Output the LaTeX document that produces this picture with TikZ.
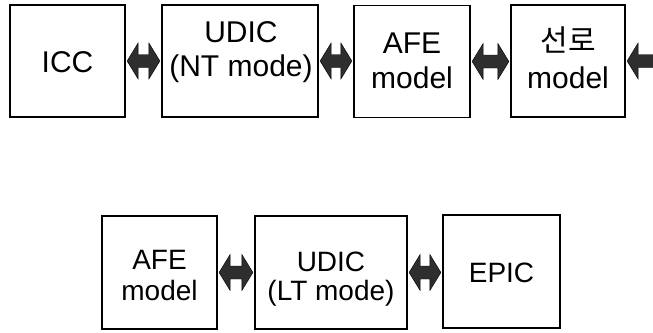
\documentclass[tikz,border=0pt]{standalone}
\usepackage{fontspec}
\setmainfont{Liberation Sans}
\newfontfamily\krfont{Noto Sans CJK KR}
\usetikzlibrary{calc}
\tikzset{
  box/.style={draw=black, line width=1.2pt, rectangle, inner sep=0pt},
  txt/.style={anchor=base, inner sep=0pt, font=\fontsize{30pt}{34pt}\selectfont},
  txtb/.style={anchor=base, inner sep=0pt, font=\fontsize{28pt}{30pt}\selectfont},
  arrowfill/.style={fill=black!82, draw=black, line width=0.4pt}
}
\newcommand{\fatarrow}[2]{%
  \path[arrowfill] let \p1=($(#1)+(1.5pt,0)$), \p2=($(#2)+(-1.5pt,0)$) in
    (\x1,\y1) -- (\x1+11pt,\y1+18pt) -- (\x1+11pt,\y1+6.5pt) -- (\x2-11pt,\y1+6.5pt)
    -- (\x2-11pt,\y1+18pt) -- (\x2,\y1) -- (\x2-11pt,\y1-18pt) -- (\x2-11pt,\y1-6.5pt)
    -- (\x1+11pt,\y1-6.5pt) -- (\x1+11pt,\y1-18pt) -- cycle;}
\begin{document}
\begin{tikzpicture}[x=1pt,y=-1pt]
\useasboundingbox (0,0) rectangle (653,332);
\clip (0,0) rectangle (653,332);
% top row
\node[box, minimum width=115pt, minimum height=112pt] (icc) at (67.5,61) {};
\node[box, minimum width=156pt, minimum height=112pt] (udicnt) at (240,61) {};
\node[box, minimum width=116pt, minimum height=112pt] (afea) at (412,61.5) {};
\node[box, minimum width=114pt, minimum height=112pt] (line) at (568,61) {};
\coordinate (rend) at (700,61);
% bottom row
\node[box, minimum width=115pt, minimum height=113pt] (afeb) at (159.5,272.5) {};
\node[box, minimum width=152pt, minimum height=113pt] (udiclt) at (331,272.5) {};
\node[box, minimum width=117pt, minimum height=113pt] (epic) at (501.5,271.5) {};
% texts
\node[txt] (t1) at (67.5,72) {ICC};
\node[txt] (t2) at (241,42) {UDIC};
\node[txt] (t3) at (241,76) {(NT mode)};
\node[txt] (t4) at (412,53) {AFE};
\node[txt] (t5) at (412,88) {model};
\node[txt] (t6) at (568,51) {\krfont 선로};
\node[txt] (t7) at (568,88) {model};
\node[txtb] (t8) at (159.5,269) {AFE};
\node[txtb] (t9) at (159.5,300) {model};
\node[txtb] (t10) at (331,271) {UDIC};
\node[txtb] (t11) at (331,300) {(LT mode)};
\node[txtb] (t12) at (501.5,282) {EPIC};
% arrows
\fatarrow{icc.east}{udicnt.west}
\fatarrow{udicnt.east}{afea.west}
\fatarrow{afea.east}{line.west}
\fatarrow{line.east}{rend}
\fatarrow{afeb.east}{udiclt.west}
\fatarrow{udiclt.east}{epic.west}
\end{tikzpicture}
\end{document}
